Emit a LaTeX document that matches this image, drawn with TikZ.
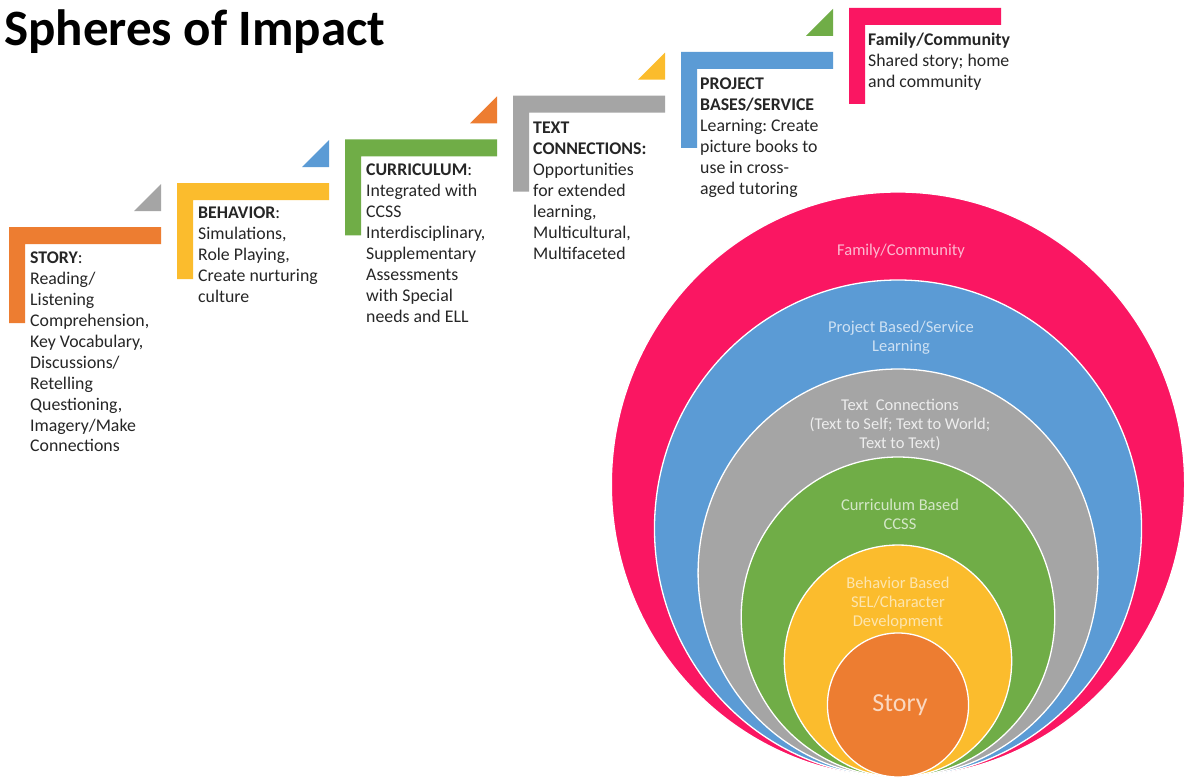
\documentclass[tikz,border=0pt]{standalone}
\usepackage{fontspec}
\setmainfont{Carlito}
\frenchspacing
\definecolor{corange}{RGB}{237,125,49}
\definecolor{cyellow}{RGB}{251,188,45}
\definecolor{cgreen}{RGB}{112,173,71}
\definecolor{cgray}{RGB}{165,165,165}
\definecolor{cblue}{RGB}{91,155,213}
\definecolor{cpink}{RGB}{250,22,98}
\definecolor{ctxt}{RGB}{38,38,38}
\tikzset{
  stext/.style={anchor=north west, inner sep=0pt, align=left, text=ctxt,
    font=\fontsize{17.8}{20.9}\selectfont},
  ctext/.style={anchor=center, inner sep=0pt, align=center,
    font=\fontsize{16.5}{19.2}\selectfont},
  ring/.style={draw=white, line width=1.3pt},
}
\begin{document}
\begin{tikzpicture}[x=1pt,y=-1pt]
\useasboundingbox (0,0) rectangle (1190,778);
\fill[white] (0,0) rectangle (1190,778);
% title
\node[anchor=base west, inner sep=0pt, font=\fontsize{51}{57}\selectfont\bfseries] (title) at (4,46) {Spheres of Impact};
% step brackets with triangles
\foreach \i/\bc/\tc in {0/corange/cgray,1/cyellow/cblue,2/cgreen/corange,3/cgray/cyellow,4/cblue/cgreen}{
  \pgfmathsetmacro\bx{9+168*\i}
  \pgfmathsetmacro\by{227-43.8*\i}
  \fill[\bc] (\bx,\by) -- ++(152,0) -- ++(0,17) -- ++(-136,0) -- ++(0,79) -- ++(-16,0) -- cycle;
  \fill[\tc] (\bx+152,\by-16) -- ++(-27,0) -- ++(27,-27) -- cycle;
}
\fill[cpink] (849,8) -- ++(152,0) -- ++(0,17) -- ++(-136,0) -- ++(0,79) -- ++(-16,0) -- cycle;
% step texts
\node[stext] (s0) at (30,252) {\textbf{STORY}:\\Reading/\\Listening\\Comprehension,\\Key Vocabulary,\\Discussions/\\Retelling\\Questioning,\\Imagery/Make\\Connections};
\node[stext] (s1) at (198,207) {\textbf{BEHAVIOR}:\\Simulations,\\Role Playing,\\Create nurturing\\culture};
\node[stext] (s2) at (366,164) {\textbf{CURRICULUM}:\\Integrated with\\CCSS\\Interdisciplinary,\\Supplementary\\Assessments\\with Special\\needs and ELL};
\node[stext] (s3) at (533,122) {\textbf{TEXT}\\\textbf{CONNECTIONS:}\\Opportunities\\for extended\\learning,\\Multicultural,\\Multifaceted};
\node[stext] (s4) at (700,78) {\textbf{PROJECT}\\\textbf{BASES/SERVICE}\\Learning: Create\\picture books to\\use in cross-\\aged tutoring};
\node[stext] (s5) at (868,33) {\textbf{Family/Community}\\Shared story; home\\and community};
% nested circles
\foreach \d/\c in {585/cpink,497/cblue,408/cgray,320/cgreen,232/cyellow,144/corange}{
  \filldraw[ring, fill=\c] (898,777-\d/2) ellipse [x radius=0.98*\d/2, y radius=\d/2];
}
% circle texts
\node[ctext, text=white!70!cpink] (c1) at (901,251) {Family/Community};
\node[ctext, text=white!70!cblue] (c2) at (901,338) {Project Based/Service\\Learning};
\node[ctext, text=white!80!cgray] (c3) at (900,425) {Text\ \ Connections\\(Text to Self; Text to World;\\Text to Text)};
\node[ctext, text=white!70!cgreen] (c4) at (900,514) {Curriculum Based\\CCSS};
\node[ctext, text=white!62!cyellow] (c5) at (898,603) {Behavior Based\\SEL/Character\\Development};
\node[anchor=center, inner sep=0pt, text=white!70!corange, font=\fontsize{26}{31}\selectfont] (c6) at (900,705) {Story};
\end{tikzpicture}
\end{document}
